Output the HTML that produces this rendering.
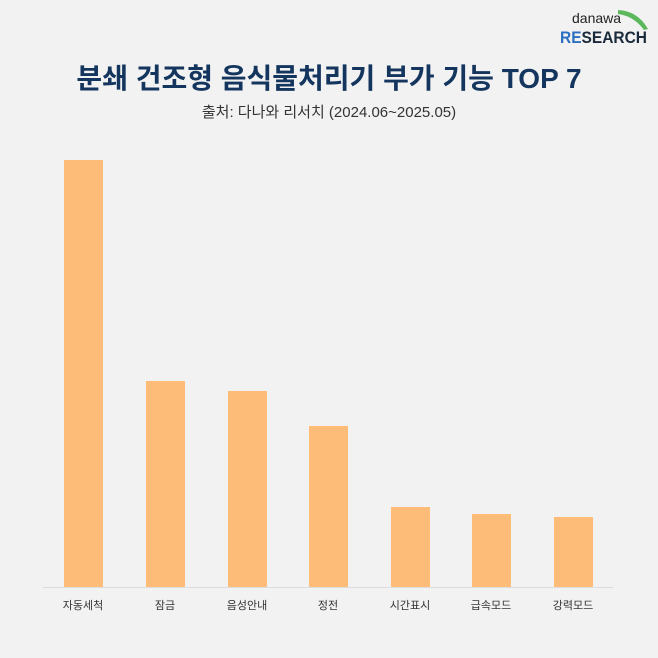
<!DOCTYPE html>
<html><head><meta charset="utf-8"><style>
html,body{margin:0;padding:0;background:#f2f2f2;}
body{width:658px;height:658px;position:relative;overflow:hidden;font-family:"Liberation Sans","Noto Sans CJK KR",sans-serif;}
.t{position:absolute;left:0;width:658px;text-align:center;}
.bar{position:absolute;background:#fdbd78;width:39px;}
.lb{position:absolute;top:597px;width:90px;text-align:center;font-size:11px;color:#333;}
</style></head><body>
<svg style="position:absolute;left:560px;top:5px" width="98" height="40">
<path d="M58 5 Q78 6 88 24 L84 25 Q74 11 58 9 Z" fill="#5cb85c"/>
<text x="12" y="18" font-family="Liberation Sans,sans-serif" font-size="14" fill="#222">danawa</text>
<text x="0" y="38" font-family="Liberation Sans,sans-serif" font-size="17" font-weight="bold" fill="#1a2a3a" textLength="87" lengthAdjust="spacingAndGlyphs"><tspan fill="#2a6fc0">RE</tspan>SEARCH</text>
</svg>
<div class="t" style="top:57px;font-size:28px;font-weight:bold;color:#14365e;">분쇄 건조형 음식물처리기 부가 기능 TOP 7</div>
<div class="t" style="top:101px;font-size:15px;color:#333;">출처: 다나와 리서치 (2024.06~2025.05)</div>
<div style="position:absolute;left:43px;top:587px;width:570px;height:1px;background:#ddd"></div>
<div class="bar" style="left:64px;top:160px;height:427px"></div>
<div class="bar" style="left:146px;top:381px;height:206px"></div>
<div class="bar" style="left:228px;top:391px;height:196px"></div>
<div class="bar" style="left:309px;top:426px;height:161px"></div>
<div class="bar" style="left:391px;top:507px;height:80px"></div>
<div class="bar" style="left:472px;top:514px;height:73px"></div>
<div class="bar" style="left:554px;top:517px;height:70px"></div>
<div class="lb" style="left:38px">자동세척</div>
<div class="lb" style="left:120px">잠금</div>
<div class="lb" style="left:202px">음성안내</div>
<div class="lb" style="left:283px">정전</div>
<div class="lb" style="left:365px">시간표시</div>
<div class="lb" style="left:446px">급속모드</div>
<div class="lb" style="left:528px">강력모드</div>
</body></html>
